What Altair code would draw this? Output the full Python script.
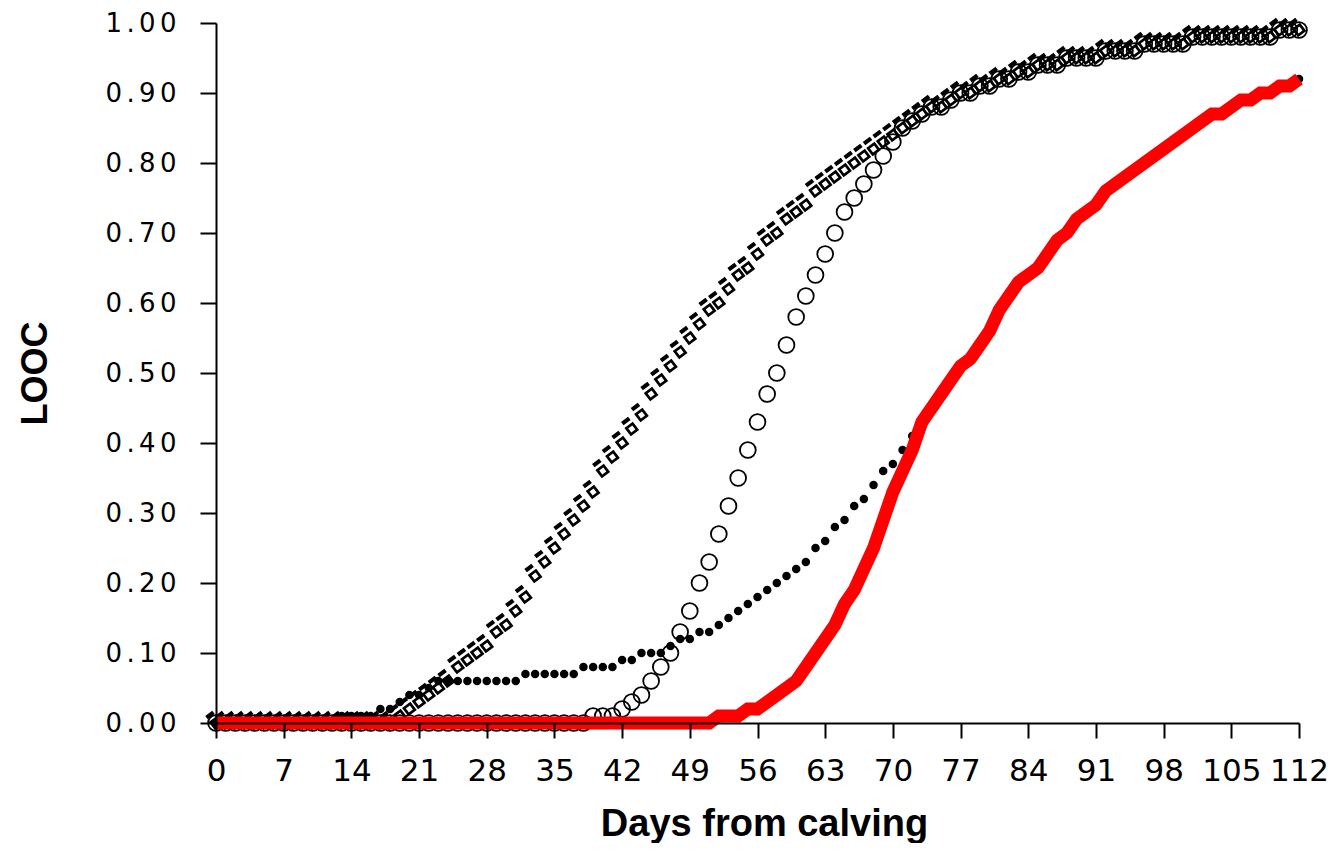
import altair as alt
import pandas as pd

# ---------------- data ----------------
days = list(range(0, 113))

# filled black dots
dots = ([0.00] * 13 +                      # 0-12
        [0.01] * 4 +                       # 13-16
        [0.02, 0.02, 0.03, 0.04, 0.04, 0.05] +   # 17-22
        [0.06] * 9 +                       # 23-31
        [0.07] * 6 +                       # 32-37
        [0.08] * 4 +                       # 38-41
        [0.09, 0.09, 0.10, 0.10, 0.10, 0.11, 0.12, 0.12, 0.13, 0.13] +  # 42-51
        [0.14, 0.15, 0.16, 0.17, 0.18, 0.19, 0.20, 0.21, 0.22, 0.23] +  # 52-61
        [0.25, 0.26, 0.28, 0.29, 0.31, 0.32, 0.34, 0.36, 0.37, 0.39, 0.41])  # 62-72

# thick red line
red = ([0.00] * 52 +                                   # 0-51
       [0.01, 0.01, 0.01, 0.02, 0.02, 0.03, 0.04, 0.05, 0.06] +   # 52-60
       [0.08, 0.10, 0.12, 0.14, 0.17, 0.19, 0.22, 0.25, 0.29, 0.33] +  # 61-70
       [0.36, 0.39, 0.43, 0.45, 0.47, 0.49, 0.51, 0.52, 0.54, 0.56] +  # 71-80
       [0.59, 0.61, 0.63, 0.64, 0.65, 0.67, 0.69, 0.70, 0.72, 0.73] +  # 81-90
       [0.74, 0.76, 0.77, 0.78, 0.79, 0.80, 0.81, 0.82, 0.83, 0.84] +  # 91-100
       [0.85, 0.86, 0.87, 0.87, 0.88, 0.89, 0.89, 0.90, 0.90, 0.91] +  # 101-110
       [0.91, 0.92])                                                 # 111-112

# after day 72 the dots run under the red line
dots = dots + red[73:]

# common upper branch of open circles and squares (days 72-112)
upper = ([0.86, 0.87, 0.88, 0.88, 0.89, 0.90, 0.90, 0.91, 0.91, 0.92] +  # 72-81
         [0.92, 0.93, 0.93, 0.94, 0.94, 0.94, 0.95, 0.95, 0.95, 0.95] +  # 82-91
         [0.96, 0.96, 0.96, 0.96, 0.97, 0.97, 0.97, 0.97, 0.97, 0.98] +  # 92-101
         [0.98, 0.98, 0.98, 0.98, 0.98, 0.98, 0.98, 0.98, 0.99, 0.99] +  # 102-111
         [0.99])                                                        # 112

# open circles
circles = ([0.00] * 39 +                                           # 0-38
           [0.01, 0.01, 0.01, 0.02, 0.03, 0.04, 0.06, 0.08, 0.10, 0.13] +  # 39-48
           [0.16, 0.20, 0.23, 0.27, 0.31, 0.35, 0.39, 0.43, 0.47, 0.50] +  # 49-58
           [0.54, 0.58, 0.61, 0.64, 0.67, 0.70, 0.73, 0.75, 0.77, 0.79] +  # 59-68
           [0.81, 0.83, 0.85] + upper)                                    # 69-112

# open squares with a dash
squares = ([0.00] * 19 +                                           # 0-18
           [0.01, 0.02, 0.03, 0.04, 0.05, 0.06, 0.08, 0.09, 0.10, 0.11] +  # 19-28
           [0.13, 0.14, 0.16, 0.18, 0.21, 0.23, 0.25, 0.27, 0.29, 0.31] +  # 29-38
           [0.33, 0.36, 0.38, 0.40, 0.42, 0.44, 0.47, 0.49, 0.51, 0.53] +  # 39-48
           [0.55, 0.57, 0.59, 0.60, 0.62, 0.64, 0.65, 0.67, 0.69, 0.70] +  # 49-58
           [0.72, 0.73, 0.74, 0.76, 0.77, 0.78, 0.79, 0.80, 0.81, 0.82] +  # 59-68
           [0.83, 0.84, 0.85] + upper)                                    # 69-112

x_ticks = list(range(0, 113, 7))
y_ticks = [0.0, 0.1, 0.2, 0.3, 0.4, 0.5, 0.6, 0.7, 0.8, 0.9, 1.0]

x_title = "Days from calving"
y_title = "LOOC"

df = pd.DataFrame({"day": days, "dots": dots, "red": red,
                   "circles": circles, "squares": squares})

# ---------------- chart ----------------
FONT = "Liberation Sans"
WIDE = "DejaVu Sans"
spaced = "join(split(datum.label, ''), '\u2006')"

xscale = alt.Scale(domain=[0, 112], nice=False, zero=False)
yscale = alt.Scale(domain=[0, 1], nice=False)

x_axis = alt.Axis(values=x_ticks, title=x_title, grid=False,
                  domainColor="black", domainWidth=2, tickColor="black",
                  tickWidth=2, tickSize=15, labelFontSize=31, labelFont=WIDE,
                  labelColor="black", labelPadding=18,
                  labelFlush=False, labelOverlap=False,
                  titleFont=FONT, titleFontSize=38, titleFontWeight="bold",
                  titleColor="black", titleX=548, titleAlign="center",
                  titleY=112, titleBaseline="alphabetic",
                  zindex=1)
y_axis = alt.Axis(values=y_ticks, format=".2f", title=y_title, grid=False,
                  domainColor="black", domainWidth=2, tickColor="black",
                  tickWidth=2, tickSize=16, labelFontSize=26, labelFont=WIDE,
                  labelColor="black", labelPadding=24, labelExpr=spaced,
                  labelFlush=False, labelOverlap=False,
                  titleFont=FONT, titleFontSize=36, titleFontWeight="bold",
                  titleColor="black", titleX=-181, titleY=350,
                  titleAngle=270, titleAlign="center", titleBaseline="middle",
                  zindex=1)

X = alt.X("day:Q", scale=xscale, axis=x_axis, title=x_title)


def Y(field):
    return alt.Y(field, type="quantitative", scale=yscale, axis=y_axis,
                 title=y_title)


base = alt.Chart(df)

circ = base.mark_point(shape="circle", filled=False, size=250, strokeWidth=1.8,
                       color="black", opacity=1).encode(x=X, y=Y("circles"))

sq_path = ("M-0.5,-0.5L0.5,-0.5L0.5,0.5L-0.5,0.5Z "
           "M-0.24,-0.24L-0.24,0.24L0.24,0.24L0.24,-0.24Z "
           "M-0.42,-1.15L0.42,-1.15L0.42,-0.75L-0.42,-0.75Z")
sq = base.mark_point(shape=sq_path, filled=True, size=440, angle=323,
                     color="black", strokeWidth=0, opacity=1).encode(
    x=X, y=Y("squares"))

dot = base.mark_circle(size=72, color="black", opacity=1).encode(
    x=X, y=Y("dots"))

line = base.mark_line(color="#FF0000", strokeWidth=13, strokeCap="butt").encode(
    x=X, y=Y("red"))

chart = alt.layer(circ, sq, dot, line).properties(
    width=1083, height=700,
    padding={"left": 208, "top": 15, "right": 29, "bottom": 120},
    autosize=alt.AutoSizeParams(type="none"),
    background="white",
).configure_view(strokeWidth=0, stroke="transparent")

chart.save("out.html", embed_options={"renderer": "svg", "actions": False})
